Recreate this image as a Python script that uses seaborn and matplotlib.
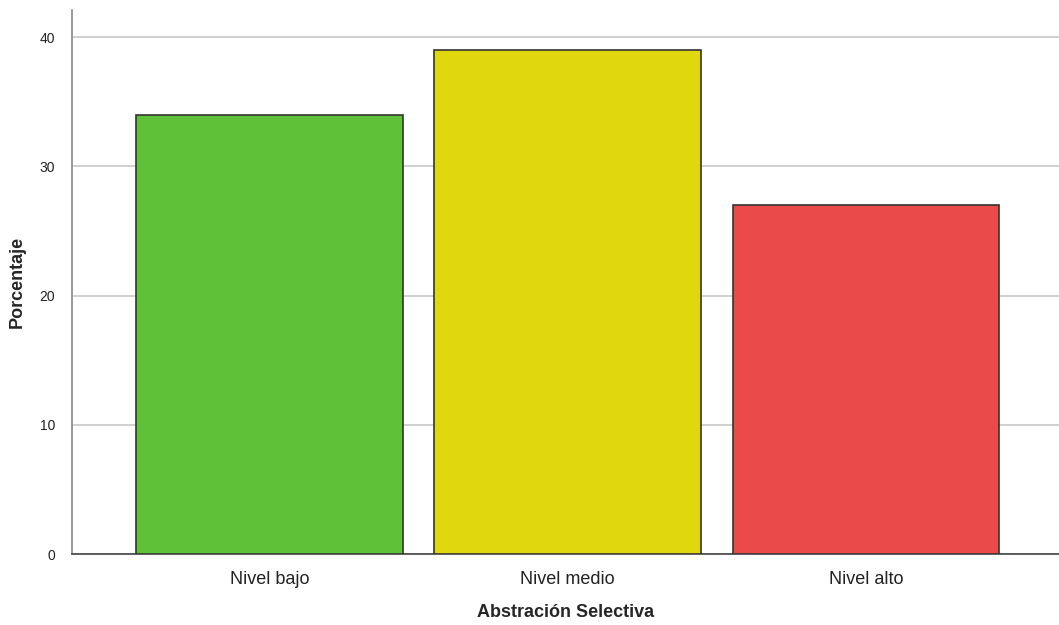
import matplotlib
matplotlib.use('Agg')
import matplotlib.pyplot as plt
import seaborn as sns
import pandas as pd

categorias = ['Nivel bajo', 'Nivel medio', 'Nivel alto']
porcentajes = [34, 39, 27]
colores = ['#5EC138', '#E1D70F', '#EB4A4B']

df = pd.DataFrame({'Nivel': categorias, 'Porcentaje': porcentajes})

sns.set_style('white')
plt.rcParams['font.family'] = ['Liberation Sans', 'DejaVu Sans']

fig = plt.figure(figsize=(10.59, 6.25), dpi=100)
ax = fig.add_axes([0.068, 0.1136, 0.932, 0.8704])

sns.barplot(data=df, x='Nivel', y='Porcentaje', hue='Nivel', palette=colores,
            saturation=1, width=0.895, edgecolor='#333333', linewidth=1.2,
            legend=False, ax=ax, zorder=3)

ax.set_ylim(0, 42.1)
ax.set_xlim(-0.662, 2.647)
ax.set_yticks([0, 10, 20, 30, 40])
ax.yaxis.grid(True, color='#c8c8c8', linewidth=1.2, zorder=0)
ax.set_axisbelow(True)

for s in ['top', 'right']:
    ax.spines[s].set_visible(False)
ax.spines['left'].set_color('#888888')
ax.spines['left'].set_linewidth(1.2)
ax.spines['bottom'].set_color('#444444')
ax.spines['bottom'].set_linewidth(1.2)

ax.tick_params(axis='both', length=0)
ax.tick_params(axis='y', labelsize=10, pad=12, labelcolor='#222222')
ax.tick_params(axis='x', labelsize=13, pad=12, labelcolor='#222222')

ax.set_xlabel('Abstración Selectiva', fontsize=13, fontweight='bold', labelpad=12)
ax.set_ylabel('Porcentaje', fontsize=13, fontweight='bold', labelpad=10)

fig.savefig('out.png', dpi=100)
